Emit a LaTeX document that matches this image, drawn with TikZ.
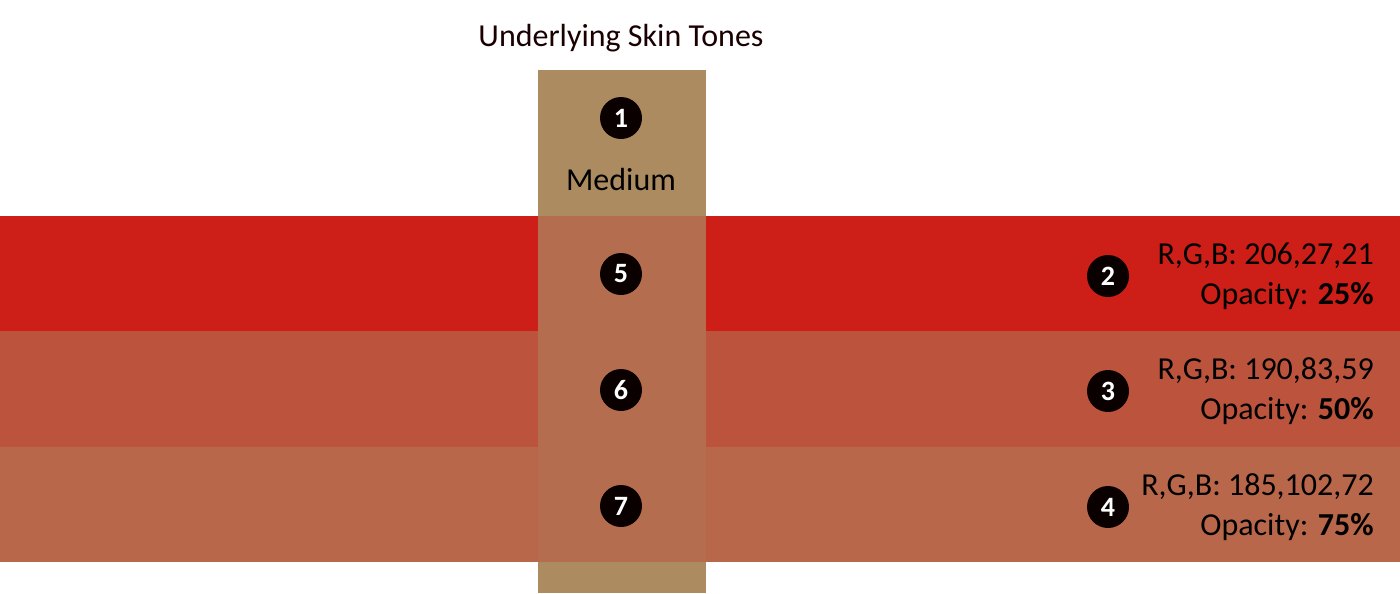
\documentclass[tikz,border=0pt]{standalone}
\usepackage{fontspec}
\setmainfont{Carlito}
\definecolor{tan}{HTML}{AD8B60}
\definecolor{bandA}{HTML}{CD1E17}
\definecolor{bandB}{HTML}{BC543D}
\definecolor{bandC}{HTML}{B9674A}
\definecolor{overlap}{HTML}{B46E4F}
\definecolor{circ}{HTML}{0A0000}
\definecolor{titlec}{HTML}{1A0000}
\begin{document}
\begin{tikzpicture}[x=0.75pt,y=-0.75pt,
  numc/.style={circle,fill=circ,minimum size=31.5pt,inner sep=0pt,text=white,font=\fontsize{21}{24}\selectfont\bfseries},
  lbl/.style={font=\fontsize{24}{28}\selectfont,text=black,inner sep=0pt},
  info/.style={font=\fontsize{24}{30}\selectfont,text=black,inner sep=0pt,align=right,anchor=east}]
\useasboundingbox (0,0) rectangle (1400,593);
\fill[white] (0,0) rectangle (1400,593);
% bands
\fill[bandA] (0,216) rectangle (1400,331);
\fill[bandB] (0,331) rectangle (1400,447);
\fill[bandC] (0,447) rectangle (1400,562);
% column
\fill[tan] (538,70) rectangle (706,593);
\fill[overlap] (538,216) rectangle (706,562);
% title
\node[lbl,text=titlec] (title) at (621,38) {Underlying Skin Tones};
\node[lbl] (medium) at (621,180) {Medium};
% numbered circles
\node[numc] (n1) at (621,118) {1};
\node[numc] (n5) at (621,274) {5};
\node[numc] (n6) at (621,390) {6};
\node[numc] (n7) at (621,506) {7};
\node[numc] (n2) at (1108,276) {2};
\node[numc] (n3) at (1108,391) {3};
\node[numc] (n4) at (1108,507) {4};
% info texts
\node[info] (i2) at (1374,276) {R,G,B: 206,27,21\\Opacity: \textbf{25\%}};
\node[info] (i3) at (1374,391) {R,G,B: 190,83,59\\Opacity: \textbf{50\%}};
\node[info] (i4) at (1374,507) {R,G,B: 185,102,72\\Opacity: \textbf{75\%}};
\end{tikzpicture}
\end{document}
